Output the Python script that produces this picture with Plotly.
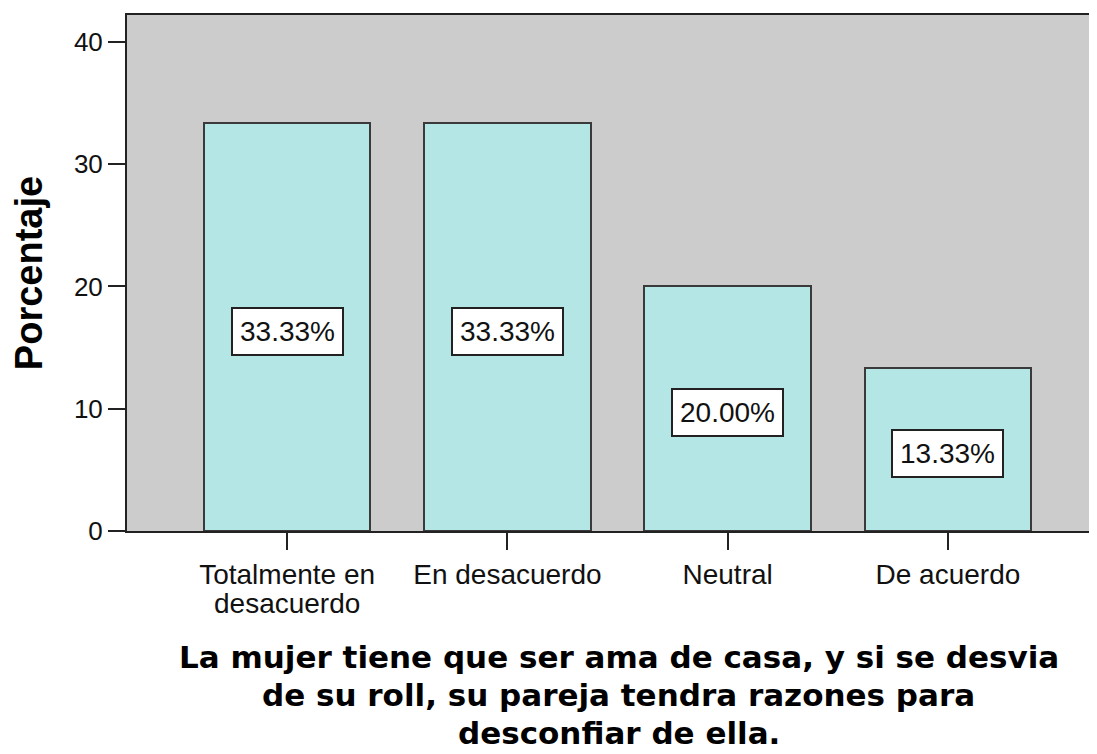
import plotly.graph_objects as go

categories = ["Totalmente en<br>desacuerdo", "En desacuerdo", "Neutral", "De acuerdo"]
percentages = [33.33, 33.33, 20.00, 13.33]
y_ticks = [0, 10, 20, 30, 40]

axis_title = "Porcentaje"
x_title_lines = [
    "La mujer tiene que ser ama de casa, y si se desvia",
    "de su roll, su pareja tendra razones para",
    "desconfiar de ella.",
]

tick_font = dict(family="Liberation Sans, Arial", size=28, color="#111")

fig = go.Figure()
fig.add_trace(
    go.Bar(
        x=list(range(len(categories))),
        y=percentages,
        width=0.755,
        marker=dict(color="#b4e6e6", line=dict(color="#3a3a3a", width=2)),
        hoverinfo="skip",
    )
)

# value labels in white boxes, centred in each bar
for i, v in enumerate(percentages):
    fig.add_annotation(
        x=i,
        y=v / 2,
        yshift=-4,
        text=f"{v:.2f}%",
        showarrow=False,
        font=tick_font,
        bgcolor="white",
        bordercolor="#222",
        borderwidth=2,
        borderpad=7,
    )

# category labels: first line as tick text, the rest set tighter underneath
first_lines = [c.split("<br>")[0] for c in categories]
for i, c in enumerate(categories):
    rest = c.split("<br>")[1:]
    if rest:
        fig.add_annotation(
            x=i,
            xref="x",
            yref="paper",
            y=0,
            yshift=-55,
            yanchor="top",
            text="<br>".join(rest),
            showarrow=False,
            font=tick_font,
        )

# x title, one annotation per line to get the tighter line spacing
for k, line in enumerate(x_title_lines):
    fig.add_annotation(
        text=line,
        xref="paper",
        yref="paper",
        x=0.507,
        y=-0.205 - 0.0737 * k,
        xanchor="center",
        yanchor="top",
        showarrow=False,
        font=dict(family="DejaVu Sans, Verdana", size=31, color="black", weight="bold"),
    )

# the page body adds 8px on each side, so the figure is 8px smaller
fig.update_layout(
    width=1089,
    height=746,
    margin=dict(l=119, r=0, t=7, b=223),
    paper_bgcolor="white",
    plot_bgcolor="#cccccc",
    showlegend=False,
    bargap=0,
)

fig.update_xaxes(
    range=[-0.727, 3.677],
    tickmode="array",
    tickvals=list(range(len(categories))),
    ticktext=first_lines,
    ticks="outside",
    ticklen=17,
    tickwidth=2,
    tickcolor="#222",
    tickfont=tick_font,
    showline=True,
    linecolor="#222",
    linewidth=2,
    mirror=True,
    showgrid=False,
    zeroline=False,
)

fig.update_yaxes(
    range=[0, 42.2],
    tickmode="array",
    tickvals=y_ticks,
    ticks="outside",
    ticklen=17,
    tickwidth=2,
    tickcolor="#222",
    tickfont=dict(family="Liberation Sans, Arial", size=26, color="#111"),
    showline=True,
    linecolor="#222",
    linewidth=2,
    showgrid=False,
    zeroline=False,
    title=dict(
        text=axis_title,
        standoff=28,
        font=dict(family="Liberation Sans, Arial", size=38, color="black", weight="bold"),
    ),
)

fig.write_html("out.html")
